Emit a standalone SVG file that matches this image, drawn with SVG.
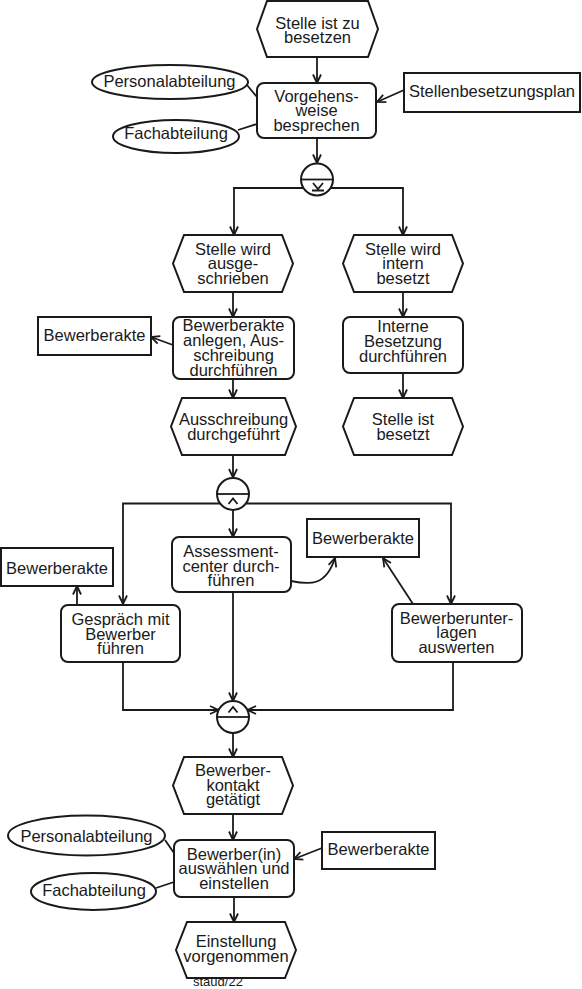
<svg xmlns="http://www.w3.org/2000/svg" width="582" height="989" viewBox="0 0 582 989">
<style>
  .shape { fill: #fff; stroke: #1a1a1a; stroke-width: 2; }
  .con { fill: none; stroke: #1a1a1a; stroke-width: 1.8; }
  .arrow { marker-end: url(#arr); }
  text { font-family: "Liberation Sans", Arial, sans-serif; font-size: 16.5px; fill: #1a1a1a; text-anchor: middle; }
  .small { font-size: 13px; text-anchor: start; }
  .sym { fill: none; stroke: #1a1a1a; stroke-width: 1.8; }
</style>
<defs>
  <marker id="arr" viewBox="0 0 10 10" refX="9.5" refY="5" markerWidth="10" markerHeight="10" markerUnits="userSpaceOnUse" orient="auto">
    <path d="M1,1 L9.5,5 L1,9" fill="none" stroke="#1a1a1a" stroke-width="1.8"/>
  </marker>
</defs>

<g id="connectors">
  <path class="con arrow" d="M317,57 V83"/>
  <path class="con" d="M247,85 L257,97"/>
  <path class="con" d="M238,130 L257,124"/>
  <path class="con arrow" d="M404,90 L377,102"/>
  <path class="con arrow" d="M317,138 V163"/>
  <path class="con arrow" d="M303.5,188 H234 V235"/>
  <path class="con arrow" d="M330.5,188 H403 V235"/>
  <path class="con arrow" d="M233,292 V317"/>
  <path class="con arrow" d="M173,345 L151,337"/>
  <path class="con arrow" d="M403,292 V317"/>
  <path class="con arrow" d="M233,379 V398"/>
  <path class="con arrow" d="M403,373 V398"/>
  <path class="con arrow" d="M233,455 V477.5"/>
  <path class="con arrow" d="M233,510 V537"/>
  <path class="con arrow" d="M220,503.5 H123 V604"/>
  <path class="con arrow" d="M246,503.5 H451 V604"/>
  <path class="con arrow" d="M77,605 V586"/>
  <path class="con arrow" d="M291,581 C310,585 326,586 335,558"/>
  <path class="con arrow" d="M413,604 L383,558"/>
  <path class="con arrow" d="M233,592 V701"/>
  <path class="con arrow" d="M123,662 V710 H218.5"/>
  <path class="con arrow" d="M453,662 V710 H247.5"/>
  <path class="con arrow" d="M233,733 V757"/>
  <path class="con arrow" d="M233,814 V840"/>
  <path class="con" d="M165,840 L174,853"/>
  <path class="con" d="M156,888 L174,882"/>
  <path class="con arrow" d="M322,848 L294,859"/>
  <path class="con arrow" d="M234,897 V922"/>
</g>

<g id="e1">
  <path class="shape" d="M267,1 L368,1 L378,29 L368,57 L267,57 L257,29 Z"/>
  <text x="317.5" y="28.5">Stelle ist zu</text>
  <text x="317.5" y="43">besetzen</text>
</g>
<g id="f1">
  <rect class="shape" x="257" y="83" width="119" height="55" rx="7"/>
  <text x="316.5" y="101.5">Vorgehens-</text>
  <text x="316.5" y="116">weise</text>
  <text x="316.5" y="130.5">besprechen</text>
</g>
<g id="o1">
  <ellipse class="shape" cx="170" cy="82" rx="78" ry="17"/>
  <text x="169.5" y="86.5">Personalabteilung</text>
</g>
<g id="o2">
  <ellipse class="shape" cx="176" cy="136.5" rx="63" ry="16.5"/>
  <text x="176" y="138.5">Fachabteilung</text>
</g>
<g id="r1">
  <rect class="shape" x="404" y="73" width="176" height="39"/>
  <text x="492" y="97">Stellenbesetzungsplan</text>
</g>
<g id="xor1">
  <circle class="shape" cx="317" cy="179.5" r="16"/>
  <path class="sym" d="M301,179.5 H333"/>
  <path class="sym" d="M313,183 L318,189 L323,183 M312,190.5 H324"/>
</g>
<g id="e2">
  <path class="shape" d="M184,235 L282,235 L293,263.5 L282,292 L184,292 L173,263.5 Z"/>
  <text x="233" y="254.5">Stelle wird</text>
  <text x="233" y="269">ausge-</text>
  <text x="233" y="284">schrieben</text>
</g>
<g id="e3">
  <path class="shape" d="M354,235 L452,235 L463,263.5 L452,292 L354,292 L343,263.5 Z"/>
  <text x="403" y="254.5">Stelle wird</text>
  <text x="403" y="269">intern</text>
  <text x="403" y="284">besetzt</text>
</g>
<g id="f2">
  <rect class="shape" x="173" y="317" width="121" height="62" rx="7"/>
  <text x="233.5" y="331">Bewerberakte</text>
  <text x="233.5" y="346">anlegen, Aus-</text>
  <text x="233.5" y="361">schreibung</text>
  <text x="233.5" y="376">durchführen</text>
</g>
<g id="r2">
  <rect class="shape" x="38" y="317" width="113" height="38"/>
  <text x="94.5" y="340.5">Bewerberakte</text>
</g>
<g id="f3">
  <rect class="shape" x="343" y="317" width="120" height="56" rx="7"/>
  <text x="403" y="331.5">Interne</text>
  <text x="403" y="346.5">Besetzung</text>
  <text x="403" y="361.5">durchführen</text>
</g>
<g id="e4">
  <path class="shape" d="M182,398 L285,398 L296,426.5 L285,455 L182,455 L171,426.5 Z"/>
  <text x="233.5" y="425">Ausschreibung</text>
  <text x="233.5" y="439.5">durchgeführt</text>
</g>
<g id="e5">
  <path class="shape" d="M354,398 L452,398 L463,426.5 L452,455 L354,455 L343,426.5 Z"/>
  <text x="403" y="425">Stelle ist</text>
  <text x="403" y="440">besetzt</text>
</g>
<g id="and1">
  <circle class="shape" cx="233" cy="494" r="16"/>
  <path class="sym" d="M217,494 H249"/>
  <path class="sym" d="M228.5,504 L233,498.5 L237.5,504"/>
</g>
<g id="f4">
  <rect class="shape" x="172" y="537" width="119" height="55" rx="7"/>
  <text x="231" y="556.5">Assessment-</text>
  <text x="231" y="571.5">center durch-</text>
  <text x="231" y="585.5">führen</text>
</g>
<g id="r4">
  <rect class="shape" x="307" y="519" width="112" height="38"/>
  <text x="363" y="543.5">Bewerberakte</text>
</g>
<g id="f5">
  <rect class="shape" x="61" y="605" width="119" height="57" rx="7"/>
  <text x="120.5" y="624.5">Gespräch mit</text>
  <text x="120.5" y="639.5">Bewerber</text>
  <text x="120.5" y="654">führen</text>
</g>
<g id="r3">
  <rect class="shape" x="1" y="548" width="112" height="38"/>
  <text x="57" y="573.5">Bewerberakte</text>
</g>
<g id="f6">
  <rect class="shape" x="392" y="604" width="130" height="58" rx="7"/>
  <text x="456.5" y="623.5">Bewerberunter-</text>
  <text x="456.5" y="638">lagen</text>
  <text x="456.5" y="652.5">auswerten</text>
</g>
<g id="and2">
  <circle class="shape" cx="233" cy="717" r="16"/>
  <path class="sym" d="M217,717 H249"/>
  <path class="sym" d="M228.5,712.5 L233,707 L237.5,712.5"/>
</g>
<g id="e6">
  <path class="shape" d="M184,757 L282,757 L293,785.5 L282,814 L184,814 L173,785.5 Z"/>
  <text x="233" y="776">Bewerber-</text>
  <text x="233" y="791">kontakt</text>
  <text x="233" y="805">getätigt</text>
</g>
<g id="f7">
  <rect class="shape" x="174" y="840" width="120" height="57" rx="7"/>
  <text x="234" y="859.5">Bewerber(in)</text>
  <text x="234" y="873.5">auswählen und</text>
  <text x="234" y="888.5">einstellen</text>
</g>
<g id="o3">
  <ellipse class="shape" cx="86.5" cy="835.5" rx="78.5" ry="20"/>
  <text x="86.5" y="841.5">Personalabteilung</text>
</g>
<g id="o4">
  <ellipse class="shape" cx="93.5" cy="891.5" rx="62.5" ry="18.5"/>
  <text x="94" y="896">Fachabteilung</text>
</g>
<g id="r5">
  <rect class="shape" x="322" y="832" width="113" height="37"/>
  <text x="378.5" y="854.5">Bewerberakte</text>
</g>
<g id="e7">
  <path class="shape" d="M187,922 L285,922 L296,950 L285,978 L187,978 L176,950 Z"/>
  <text x="236" y="946.5">Einstellung</text>
  <text x="236" y="961.5">vorgenommen</text>
</g>
<text class="small" x="193" y="985.5">staud/22</text>
</svg>
